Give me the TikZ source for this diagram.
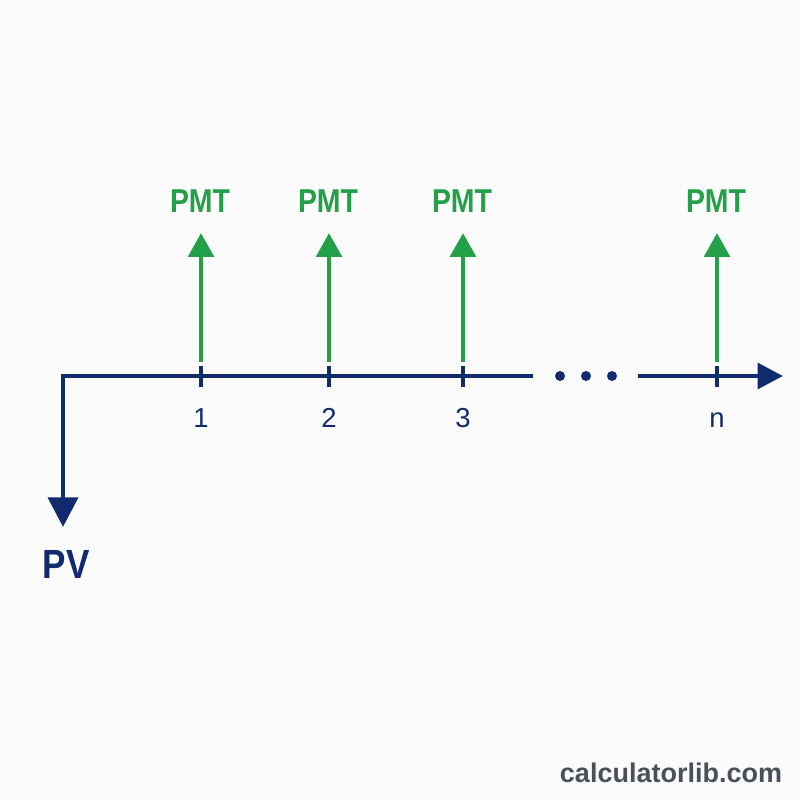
\documentclass[tikz,border=0pt]{standalone}
\usepackage{fontspec}
\setmainfont{Liberation Sans}
\newfontfamily\labelfont[FakeStretch=0.86]{Liberation Sans}
\usetikzlibrary{arrows.meta, positioning}
\definecolor{navyline}{RGB}{16, 44, 110}
\definecolor{pmtgreen}{RGB}{36, 160, 72}
\definecolor{markgray}{RGB}{74, 80, 90}
\definecolor{paper}{RGB}{251, 251, 251}

\begin{document}
\begin{tikzpicture}[
  x=0.025cm, y=-0.025cm,
  axisline/.style={draw=navyline, line width=3.4pt},
  tickmark/.style={draw=navyline, line width=3pt},
  pmtarrow/.style={draw=pmtgreen, line width=3.4pt, -{Triangle[width=18pt, length=17pt]}},
  pmtlabel/.style={anchor=base, text=pmtgreen, font=\labelfont\fontsize{23.5}{26}\selectfont\bfseries, inner sep=0pt},
  periodlabel/.style={anchor=base, text=navyline, font=\fontsize{19.5}{22}\selectfont, inner sep=0pt},
]
\fill[paper] (0,0) rectangle (800,800);

% Time line with the present value leg
\coordinate (origin) at (63,376);
\coordinate (pvend) at (63,527);
\coordinate (gapstart) at (533,376);
\coordinate (gapend) at (638,376);
\coordinate (axisend) at (783,376);
\draw[axisline, {Triangle[width=21pt, length=21pt]}-] (pvend) -- (origin) -- (gapstart);
\draw[axisline, -{Triangle[width=18pt, length=18pt]}] (gapend) -- (axisend);
\foreach \x in {560,586,612}{\fill[navyline] (\x,376) circle[radius=0.125cm];}

\node[anchor=base, text=navyline, font=\labelfont\fontsize{29}{32}\selectfont\bfseries, inner sep=0pt] (pv) at (66,578) {PV};

% Periods and payments
\foreach \x/\p/\lab in {201/p1/1, 329/p2/2, 463/p3/3, 717/pn/n}{
  \coordinate (\p) at (\x,376);
  \draw[tickmark] (\x,366) -- (\x,387);
  \node[periodlabel] (lab\p) at (\x,427) {\lab};
  \coordinate (pmtfoot\p) at (\x,362);
  \coordinate (pmttip\p) at (\x,233);
  \draw[pmtarrow] (pmtfoot\p) -- (pmttip\p);
  \node[pmtlabel] (pmt\p) at (\x-1,213) {PMT};
}

\node[anchor=base, text=markgray, font=\fontsize{19.2}{22}\selectfont\bfseries, inner sep=0pt] (site) at (671,782) {calculatorlib.com};
\end{tikzpicture}
\end{document}
